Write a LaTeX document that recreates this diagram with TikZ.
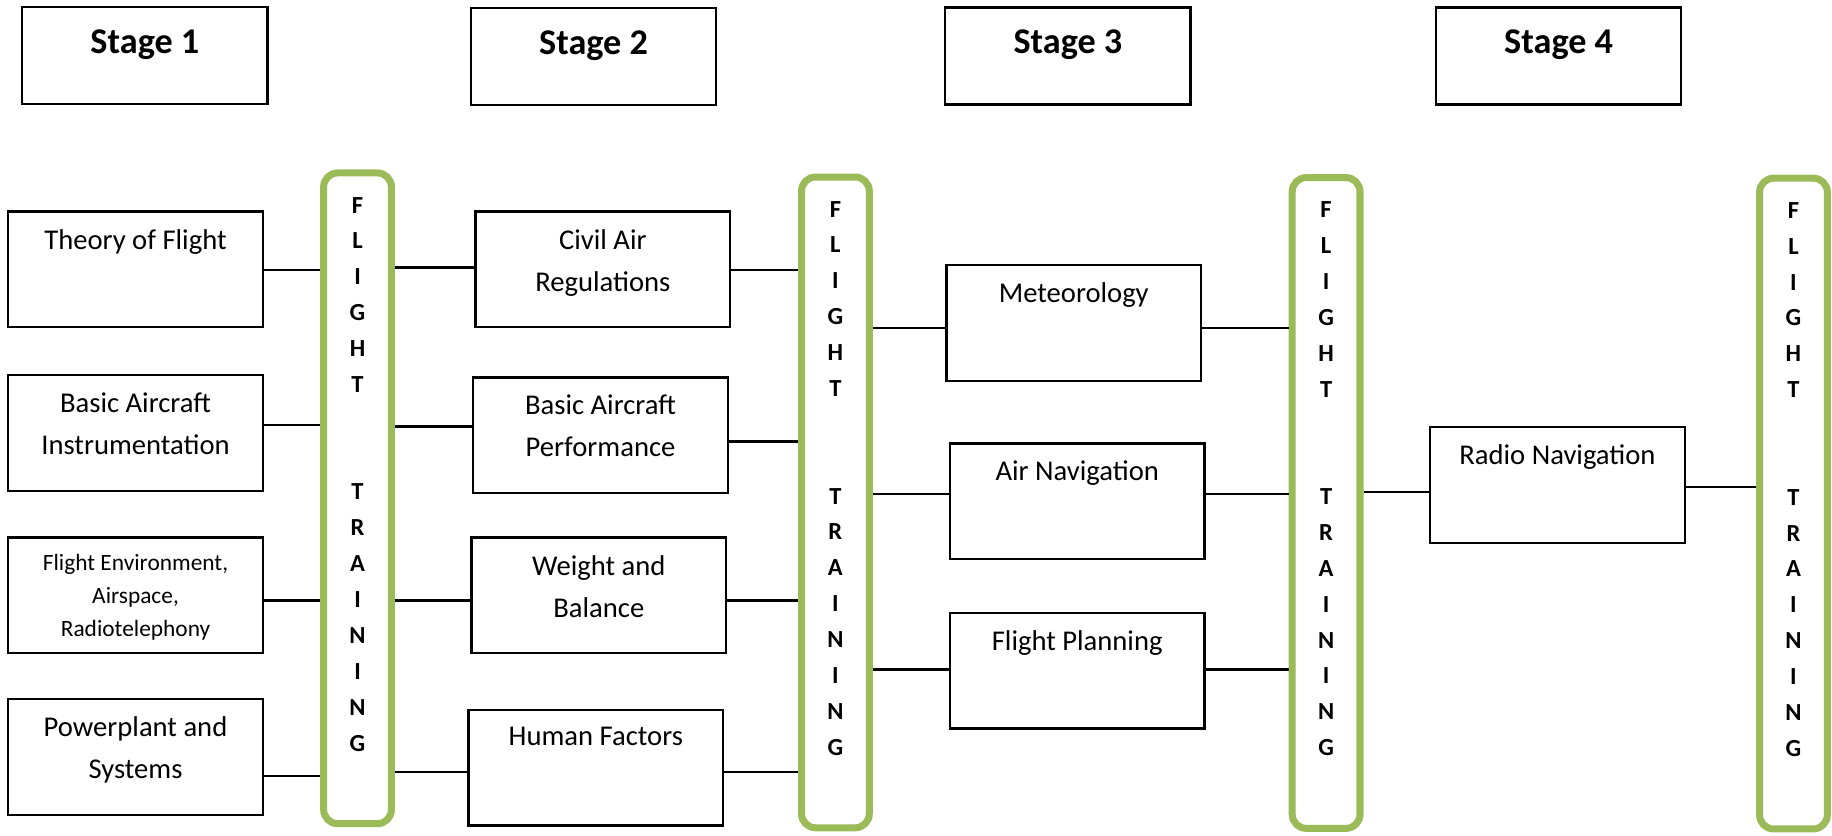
\documentclass[tikz,border=0pt]{standalone}
\usepackage{fontspec}
\setmainfont{Carlito}
\definecolor{barolive}{HTML}{9BBB59}
\def\flighttext{F\\L\\I\\G\\H\\T\\[61.4pt]T\\R\\A\\I\\N\\I\\N\\G}

\begin{document}
\begin{tikzpicture}[x=1pt, y=-1pt,
		stagebox/.style={draw, line width=2pt, minimum width=210pt, minimum height=83pt},
		stagetxt/.style={anchor=north, inner sep=0pt, yshift=-20pt, font=\bfseries\fontsize{31}{36}\selectfont},
		subj/.style={draw, line width=2pt, minimum width=218pt, minimum height=99pt},
		subjtxt/.style={anchor=north, inner sep=0pt, yshift=-16pt, align=center, font=\fontsize{24.5}{36}\selectfont},
		smalltxt/.style={anchor=north, inner sep=0pt, yshift=-15pt, align=center, font=\fontsize{20}{28.5}\selectfont},
		bar/.style={draw=barolive, line width=6pt, rounded corners=12pt, minimum width=58pt, minimum height=557pt},
		bartxt/.style={anchor=north, inner sep=0pt, yshift=-23.5pt, align=center, font=\bfseries\fontsize{21}{30.7}\selectfont},
		link/.style={line width=2pt}]
		%%%%% START %%%%%
		
		\useasboundingbox (0, 0) rectangle (1568, 715);
		
		\node[stagebox, label={[stagetxt, name=st1txt]north:Stage 1}] (st1) at (124, 47.5) {};
		\node[stagebox, label={[stagetxt, name=st2txt]north:Stage 2}] (st2) at (508, 48.5) {};
		\node[stagebox, label={[stagetxt, name=st3txt]north:Stage 3}] (st3) at (914, 48) {};
		\node[stagebox, label={[stagetxt, name=st4txt]north:Stage 4}] (st4) at (1334, 48) {};
		
		\node[bar, label={[bartxt, name=flt1txt]north:\flighttext}] (flt1) at (306, 426.5) {};
		\node[bar, label={[bartxt, name=flt2txt]north:\flighttext}] (flt2) at (715, 430) {};
		\node[bar, label={[bartxt, name=flt3txt]north:\flighttext}] (flt3) at (1135, 430.5) {};
		\node[bar, label={[bartxt, name=flt4txt]north:\flighttext}] (flt4) at (1535, 431) {};
		
		\node[subj, label={[subjtxt, name=theorytxt]north:Theory of Flight}] (theory) at (116, 230.5) {};
		\node[subj, label={[subjtxt, name=instrtxt]north:Basic Aircraft\\Instrumentation}] (instr) at (116, 370.5) {};
		\node[subj, label={[smalltxt, name=fenvtxt]north:Flight Environment,\\Airspace,\\Radiotelephony}] (fenv) at (116, 509.5) {};
		\node[subj, label={[subjtxt, name=powertxt]north:Powerplant and\\Systems}] (power) at (116, 648) {};
		
		\node[subj, label={[subjtxt, name=civiltxt]north:Civil Air\\Regulations}] (civil) at (516, 230.5) {};
		\node[subj, label={[subjtxt, name=perftxt]north:Basic Aircraft\\Performance}] (perf) at (514, 372.5) {};
		\node[subj, label={[subjtxt, name=weighttxt]north:Weight and\\Balance}] (weight) at (512.5, 509.5) {};
		\node[subj, label={[subjtxt, name=humantxt]north:Human Factors}] (human) at (510, 657) {};
		
		\node[subj, label={[subjtxt, name=meteotxt]north:Meteorology}] (meteo) at (919, 276.5) {};
		\node[subj, label={[subjtxt, name=airnavtxt]north:Air Navigation}] (airnav) at (922, 429) {};
		\node[subj, label={[subjtxt, name=fplantxt]north:Flight Planning}] (fplan) at (922, 574) {};
		
		\node[subj, label={[subjtxt, name=radiotxt]north:Radio Navigation}] (radio) at (1333, 415) {};
		
		\draw[link] (theory.east |- 0,231) -- (flt1.west |- 0,231);
		\draw[link] (instr.east |- 0,364) -- (flt1.west |- 0,364);
		\draw[link] (fenv.east |- 0,514) -- (flt1.west |- 0,514);
		\draw[link] (power.east |- 0,664) -- (flt1.west |- 0,664);
		
		\draw[link] (flt1.east |- 0,229) -- (civil.west |- 0,229);
		\draw[link] (flt1.east |- 0,365) -- (perf.west |- 0,365);
		\draw[link] (flt1.east |- 0,514) -- (weight.west |- 0,514);
		\draw[link] (flt1.east |- 0,661) -- (human.west |- 0,661);
		
		\draw[link] (civil.east |- 0,231) -- (flt2.west |- 0,231);
		\draw[link] (perf.east |- 0,378) -- (flt2.west |- 0,378);
		\draw[link] (weight.east |- 0,514) -- (flt2.west |- 0,514);
		\draw[link] (human.east |- 0,661) -- (flt2.west |- 0,661);
		
		\draw[link] (flt2.east |- 0,281) -- (meteo.west |- 0,281);
		\draw[link] (flt2.east |- 0,423) -- (airnav.west |- 0,423);
		\draw[link] (flt2.east |- 0,573) -- (fplan.west |- 0,573);
		
		\draw[link] (meteo.east |- 0,281) -- (flt3.west |- 0,281);
		\draw[link] (airnav.east |- 0,423) -- (flt3.west |- 0,423);
		\draw[link] (fplan.east |- 0,573) -- (flt3.west |- 0,573);
		
		\draw[link] (flt3.east |- 0,421) -- (radio.west |- 0,421);
		\draw[link] (radio.east |- 0,417) -- (flt4.west |- 0,417);
		
		%%%%% END %%%%%
\end{tikzpicture}
\end{document}
